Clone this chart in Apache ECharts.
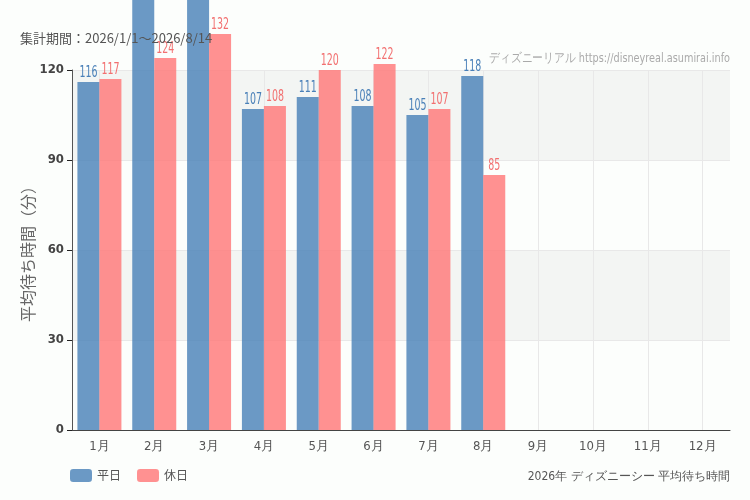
<!DOCTYPE html>
<html>
<head>
<meta charset="utf-8">
<script src="https://cdn.jsdelivr.net/npm/echarts@6/dist/echarts.min.js"></script>
<style>
html,body{margin:0;padding:0;background:#fcfefc;}
#main{width:750px;height:500px;}
</style>
</head>
<body>
<div id="main"></div>
<script>
var months = ['1月','2月','3月','4月','5月','6月','7月','8月','9月','10月','11月','12月'];
var weekday = [116, 150, 155, 107, 111, 108, 105, 118];
var holiday = [117, 124, 132, 108, 120, 122, 107, 85];
var yTicks = [0, 30, 60, 90, 120];

var narrow = '"DejaVu Sans Condensed","DejaVu Sans",sans-serif';
var jp = '"Noto Sans CJK JP",sans-serif';

// narrow value labels drawn at the top of each bar
function labelSeries(name, values, dx, color) {
	return {
		name: name + 'ラベル',
		type: 'custom',
		silent: true,
		legendHoverLink: false,
		z: 5,
		data: values.map(function (v, i) { return [i, v]; }),
		renderItem: function (params, api) {
			var p = api.coord([api.value(0), api.value(1)]);
			return {
				type: 'text',
				x: p[0] + dx,
				y: p[1] - 1,
				scaleX: 0.7,
				style: {
					text: String(api.value(1)),
					fill: color,
					font: '15px ' + narrow,
					align: 'center',
					verticalAlign: 'bottom'
				}
			};
		}
	};
}

echarts.init(document.getElementById('main')).setOption({
	backgroundColor: '#fcfefc',
	animation: false,
	title: [{
		text: '集計期間：2026/1/1～2026/8/14',
		left: 15, top: 27,
		textStyle: {fontSize: 13, fontWeight: 'normal', color: '#555', fontFamily: jp}
	}, {
		text: '2026年 ディズニーシー 平均待ち時間',
		right: 15, top: 466,
		textStyle: {fontSize: 12, fontWeight: 'normal', color: '#555', fontFamily: narrow}
	}],
	graphic: [{
		type: 'text',
		right: 20, top: 52,
		scaleX: 0.83,
		style: {text: 'ディズニーリアル https://disneyreal.asumirai.info', fill: '#aaa', font: '13px ' + narrow}
	}],
	legend: {
		left: 65, top: 464,
		itemWidth: 22, itemHeight: 13, itemGap: 16,
		textStyle: {fontSize: 12, color: '#555', fontFamily: jp},
		data: ['平日', '休日']
	},
	grid: {left: 72, right: 20, top: 70, bottom: 70},
	xAxis: {
		type: 'category',
		data: months,
		axisLine: {lineStyle: {color: '#444'}},
		axisTick: {alignWithLabel: true, lineStyle: {color: '#222'}},
		axisLabel: {fontSize: 13, color: '#555', fontFamily: narrow, margin: 10},
		splitLine: {show: true, alignWithLabel: true, lineStyle: {color: '#e8e8e8'}}
	},
	yAxis: {
		type: 'value',
		min: yTicks[0], max: yTicks[yTicks.length - 1], interval: 30,
		name: '平均待ち時間（分）',
		nameLocation: 'middle', nameGap: 36, nameRotate: 90, nameMoveOverlap: false,
		nameTextStyle: {fontSize: 16, color: '#666', fontFamily: jp},
		axisLine: {show: true, lineStyle: {color: '#555'}},
		axisTick: {show: true, lineStyle: {color: '#222'}},
		axisLabel: {fontSize: 13, color: '#444', fontFamily: narrow, fontWeight: 'bold'},
		splitLine: {show: true, lineStyle: {color: '#e8e8e8'}},
		splitArea: {show: true, areaStyle: {color: ['rgba(0,0,0,0)', 'rgba(235,237,235,0.55)']}}
	},
	series: [{
		name: '平日',
		type: 'bar',
		data: weekday,
		clip: false,
		barWidth: 22,
		barGap: '0%',
		itemStyle: {color: 'rgba(70,128,182,0.8)'}
	}, {
		name: '休日',
		type: 'bar',
		data: holiday,
		clip: false,
		barWidth: 22,
		itemStyle: {color: 'rgba(255,118,118,0.8)'}
	},
	labelSeries('平日', weekday, -11, '#4a80b8'),
	labelSeries('休日', holiday, 11, '#f27070')]
});
</script>
</body>
</html>
